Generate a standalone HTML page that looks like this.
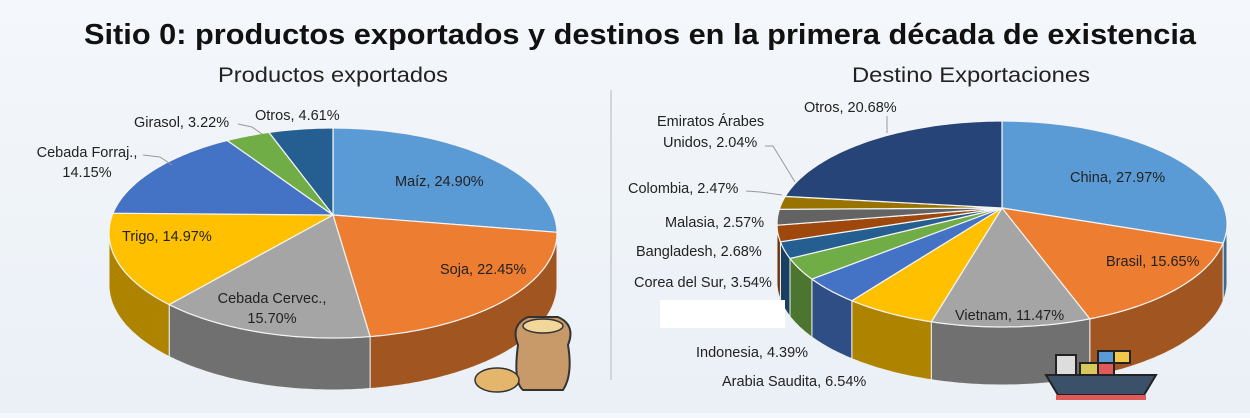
<!DOCTYPE html>
<html><head><meta charset="utf-8">
<style>
html,body{margin:0;padding:0;}
body{width:1250px;height:413px;overflow:hidden;background:linear-gradient(180deg,#f4f7fb 0%,#eaf0f6 100%);font-family:"Liberation Sans",sans-serif;}
svg text{font-family:"Liberation Sans",sans-serif;}
</style></head><body>
<svg id="s" width="1250" height="413" viewBox="0 0 1250 413" xmlns="http://www.w3.org/2000/svg">
<text x="84" y="44" textLength="1112" lengthAdjust="spacingAndGlyphs" font-size="29" font-weight="bold" fill="#111">Sitio 0: productos exportados y destinos en la primera década de existencia</text>
<text x="218" y="82" textLength="230" lengthAdjust="spacingAndGlyphs" font-size="21" fill="#222">Productos exportados</text>
<text x="852" y="82" textLength="238" lengthAdjust="spacingAndGlyphs" font-size="21" fill="#222">Destino Exportaciones</text>
<line x1="611" y1="90" x2="611" y2="380" stroke="#c8ccd2" stroke-width="1.5"/>
<g id="L"></g><g id="R"></g>
<rect x="660" y="300" width="125" height="28" fill="#fff"/>
<g font-size="14.5" fill="#222">
<text x="395" y="186">Maíz, 24.90%</text>
<text x="440" y="274">Soja, 22.45%</text>
<text x="272" y="303" text-anchor="middle">Cebada Cervec.,</text>
<text x="272" y="323" text-anchor="middle">15.70%</text>
<text x="122" y="241">Trigo, 14.97%</text>
<text x="87" y="157" text-anchor="middle">Cebada Forraj.,</text>
<text x="87" y="177" text-anchor="middle">14.15%</text>
<text x="134" y="127">Girasol, 3.22%</text>
<text x="255" y="120">Otros, 4.61%</text>
<text x="1070" y="182">China, 27.97%</text>
<text x="1106" y="266">Brasil, 15.65%</text>
<text x="955" y="320">Vietnam, 11.47%</text>
<text x="804" y="112">Otros, 20.68%</text>
<text x="657" y="126">Emiratos Árabes</text>
<text x="663" y="147">Unidos, 2.04%</text>
<text x="628" y="193">Colombia, 2.47%</text>
<text x="665" y="227">Malasia, 2.57%</text>
<text x="636" y="256">Bangladesh, 2.68%</text>
<text x="634" y="287">Corea del Sur, 3.54%</text>
<text x="696" y="357">Indonesia, 4.39%</text>
<text x="722" y="386">Arabia Saudita, 6.54%</text>
</g>
<g stroke="#999" fill="none" stroke-width="1">
<polyline points="238,124 252,127 262,134"/>
<polyline points="143,155 160,157 172,165"/>
<polyline points="887,116 887,133"/>
<polyline points="765,146 773,146 795,182"/>
<polyline points="746,191 760,192 782,195"/>
</g>
<g>
<path d="M518 345 q-8 -20 10 -28 h30 q18 8 10 28 q5 30 -5 45 h-40 q-10 -8 -5 -45z" fill="#c89a6a" stroke="#333" stroke-width="2"/>
<ellipse cx="543" cy="326" rx="20" ry="7" fill="#f2d79b" stroke="#333" stroke-width="1.5"/>
<ellipse cx="497" cy="380" rx="22" ry="12" fill="#e3b66b" stroke="#333" stroke-width="1.5"/>
<path d="M1046 375 h110 l-12 20 h-86z" fill="#3a5169" stroke="#222" stroke-width="2"/>
<rect x="1056" y="355" width="20" height="20" fill="#ddd" stroke="#222" stroke-width="2"/>
<rect x="1080" y="363" width="18" height="12" fill="#d6c85a" stroke="#222" stroke-width="2"/>
<rect x="1098" y="363" width="16" height="12" fill="#e05a5a" stroke="#222" stroke-width="2"/>
<rect x="1098" y="351" width="16" height="12" fill="#5b9bd5" stroke="#222" stroke-width="2"/>
<rect x="1114" y="351" width="16" height="12" fill="#f2c84b" stroke="#222" stroke-width="2"/>
<rect x="1056" y="395" width="90" height="5" fill="#e05a5a"/>
</g>
</svg>
<script>
function darken(h,f){var n=parseInt(h.slice(1),16);var r=(n>>16)&255,g=(n>>8)&255,b=n&255;return "rgb("+Math.round(r*f)+","+Math.round(g*f)+","+Math.round(b*f)+")";}
function pie(gid,cx,cy,rx,ry,ax,ay,d,data){
 var g=document.getElementById(gid),h="";
 function P(t){t=t*Math.PI/180;return [cx+rx*Math.sin(t),cy-ry*Math.cos(t)];}
 var tot=0,st=0,arr=[];data.forEach(function(x){tot+=x[0];});
 data.forEach(function(x){var a=st,b=st+x[0]/tot*360;arr.push([a,b,x[1]]);st=b;});
 arr.forEach(function(s){var a=Math.max(s[0],90),b=Math.min(s[1],270);if(b<=a)return;
  var pts=[],i;for(i=a;i<=b;i+=1)pts.push(P(i));pts.push(P(b));
  var top=pts.map(function(p){return p[0].toFixed(1)+","+p[1].toFixed(1)}).join(" ");
  var bot=pts.slice().reverse().map(function(p){return p[0].toFixed(1)+","+(p[1]+d).toFixed(1)}).join(" ");
  h+='<polygon points="'+top+' '+bot+'" fill="'+darken(s[2],0.68)+'" stroke="#eee" stroke-width="1"/>';});
 arr.forEach(function(s){var pts=[[ax,ay]],i;for(i=s[0];i<s[1];i+=1)pts.push(P(i));pts.push(P(s[1]));
  h+='<polygon points="'+pts.map(function(p){return p[0].toFixed(1)+","+p[1].toFixed(1)}).join(" ")+'" fill="'+s[2]+'" stroke="#f4f4f4" stroke-width="1.2"/>';});
 g.innerHTML=h;}
pie("L",333,233,224,105,333,215,52,[[24.9,"#5b9bd5"],[22.45,"#ed7d31"],[15.7,"#a5a5a5"],[14.97,"#ffc000"],[14.15,"#4472c4"],[3.22,"#70ad47"],[4.61,"#255e91"]]);
pie("R",1002,224,225,103,1002,208,58,[[27.97,"#5b9bd5"],[15.65,"#ed7d31"],[11.47,"#a5a5a5"],[6.54,"#ffc000"],[4.39,"#4472c4"],[3.54,"#70ad47"],[2.68,"#255e91"],[2.57,"#9e480e"],[2.47,"#636363"],[2.04,"#997300"],[20.68,"#264478"]]);
</script>
</body></html>
